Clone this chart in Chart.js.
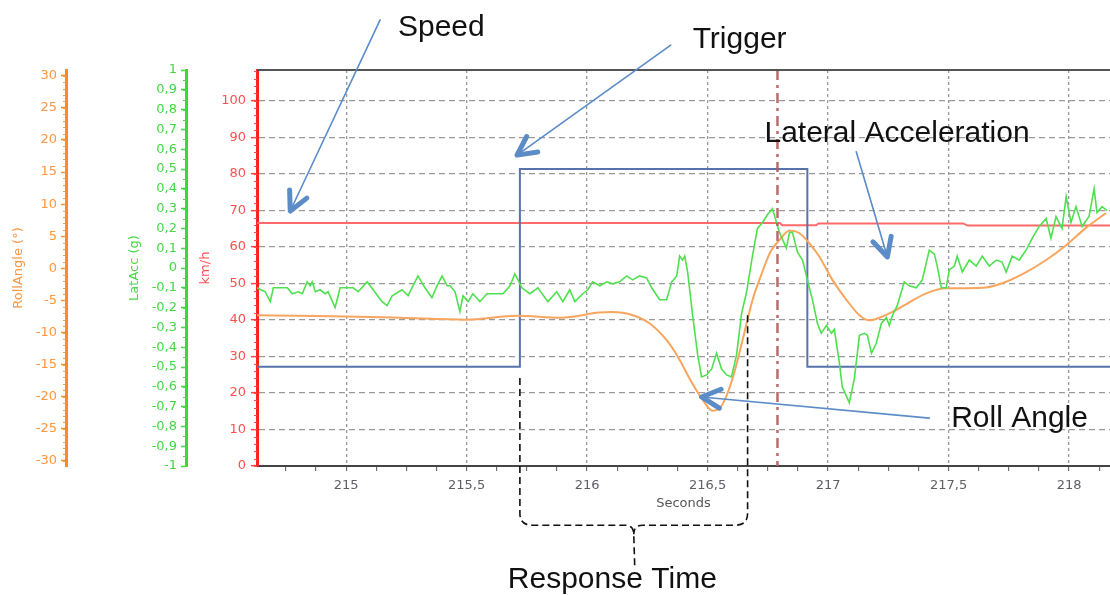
<!DOCTYPE html>
<html>
<head>
<meta charset="utf-8">
<script src="https://cdn.jsdelivr.net/npm/chart.js@4.4.1/dist/chart.umd.min.js"></script>
<style>
  html, body { margin: 0; padding: 0; background: #ffffff; }
  #wrap { width: 1110px; height: 595px; position: relative; }
</style>
</head>
<body>
<div id="wrap"><canvas id="chart" width="1110" height="595"></canvas></div>
<script>
// ---- tick labels ----
const timeTicks  = [215, 215.5, 216, 216.5, 217, 217.5, 218];
const speedTicks = [0, 10, 20, 30, 40, 50, 60, 70, 80, 90, 100];
const latTicks   = [-1, -0.9, -0.8, -0.7, -0.6, -0.5, -0.4, -0.3, -0.2, -0.1, 0,
                    0.1, 0.2, 0.3, 0.4, 0.5, 0.6, 0.7, 0.8, 0.9, 1];
const rollTicks  = [-30, -25, -20, -15, -10, -5, 0, 5, 10, 15, 20, 25, 30];

// ---- recorded channels: [seconds, value] ----
// vehicle speed, km/h
const speed = [
  [214.63, 66.5], [216.80, 66.5], [216.81, 65.9], [216.95, 65.9],
  [216.96, 66.4], [217.56, 66.4], [217.58, 65.8], [218.17, 65.8]
];
// steering trigger, drawn on the km/h scale (low / high level)
const triggerEdges = [215.721, 216.914];
const trigger = [
  [214.63, 27.2], [215.721, 27.2], [215.721, 81.3],
  [216.914, 81.3], [216.914, 27.2], [218.17, 27.2]
];
// roll angle, degrees
const rollAngle = [
  [214.63, -7.3], [214.80, -7.4], [215.00, -7.5], [215.22, -7.7], [215.50, -8.0],
  [215.71, -7.4], [215.89, -7.7], [216.05, -6.9], [216.10, -6.8], [216.19, -7.3],
  [216.26, -8.6], [216.33, -11.2], [216.38, -14.0], [216.43, -17.5], [216.48, -20.5],
  [216.52, -22.2], [216.56, -21.3], [216.60, -17.6], [216.645, -11.2], [216.686, -5.0],
  [216.72, -1.3], [216.76, 2.5], [216.80, 4.5], [216.84, 5.9], [216.88, 5.5],
  [216.935, 3.3], [216.964, 1.8], [217.018, -1.8], [217.076, -4.9], [217.13, -7.3],
  [217.171, -8.1], [217.213, -7.7], [217.267, -6.8], [217.337, -5.3], [217.407, -3.9],
  [217.49, -3.1], [217.573, -3.1], [217.656, -3.0], [217.739, -2.1], [217.822, -0.6],
  [217.905, 1.3], [217.988, 3.6], [218.07, 6.3], [218.153, 8.6]
];
// lateral acceleration, g
const latAcc = [
  [214.630, -0.10], [214.664, -0.12], [214.685, -0.17], [214.698, -0.10], [214.756, -0.10],
  [214.776, -0.13], [214.801, -0.12], [214.818, -0.13], [214.838, -0.07], [214.851, -0.09],
  [214.859, -0.07], [214.872, -0.12], [214.892, -0.11], [214.913, -0.13], [214.925, -0.12],
  [214.954, -0.20], [214.975, -0.10], [215.029, -0.10], [215.050, -0.12], [215.087, -0.07],
  [215.112, -0.11], [215.149, -0.17], [215.170, -0.19], [215.191, -0.14], [215.232, -0.11],
  [215.257, -0.14], [215.298, -0.04], [215.327, -0.10], [215.356, -0.15], [215.377, -0.09],
  [215.398, -0.04], [215.419, -0.09], [215.431, -0.09], [215.452, -0.12], [215.472, -0.22],
  [215.485, -0.14], [215.506, -0.17], [215.526, -0.13], [215.555, -0.17], [215.584, -0.13],
  [215.651, -0.13], [215.680, -0.09], [215.700, -0.03], [215.713, -0.06], [215.729, -0.10],
  [215.762, -0.13], [215.796, -0.10], [215.837, -0.17], [215.874, -0.12], [215.899, -0.17],
  [215.928, -0.11], [215.949, -0.17], [215.982, -0.13], [216.003, -0.11], [216.023, -0.07],
  [216.053, -0.09], [216.082, -0.07], [216.106, -0.08], [216.135, -0.07], [216.164, -0.04],
  [216.189, -0.06], [216.218, -0.04], [216.247, -0.05], [216.268, -0.10], [216.301, -0.16],
  [216.330, -0.16], [216.351, -0.07], [216.372, -0.04], [216.384, 0.06], [216.396, 0.04],
  [216.405, 0.06], [216.417, -0.02], [216.438, -0.24], [216.459, -0.44], [216.475, -0.55],
  [216.496, -0.54], [216.517, -0.51], [216.537, -0.43], [216.558, -0.51], [216.579, -0.54],
  [216.599, -0.55], [216.620, -0.44], [216.641, -0.23], [216.662, -0.12], [216.686, 0.06],
  [216.707, 0.20], [216.728, 0.23], [216.749, 0.27], [216.769, 0.30], [216.786, 0.23],
  [216.798, 0.18], [216.827, 0.10], [216.840, 0.18], [216.852, 0.18], [216.873, 0.08],
  [216.894, 0.04], [216.914, -0.06], [216.935, -0.16], [216.956, -0.28], [216.972, -0.33],
  [216.993, -0.29], [217.014, -0.33], [217.026, -0.31], [217.047, -0.48], [217.059, -0.60],
  [217.088, -0.68], [217.109, -0.56], [217.130, -0.34], [217.151, -0.33], [217.163, -0.34],
  [217.180, -0.43], [217.200, -0.38], [217.221, -0.28], [217.242, -0.25], [217.254, -0.29],
  [217.267, -0.24], [217.287, -0.19], [217.316, -0.07], [217.337, -0.09], [217.366, -0.10],
  [217.391, -0.06], [217.420, 0.09], [217.441, 0.07], [217.453, 0.01], [217.470, -0.10],
  [217.490, -0.10], [217.503, -0.01], [217.524, 0.01], [217.536, 0.06], [217.557, -0.02],
  [217.586, 0.04], [217.615, 0.01], [217.640, 0.06], [217.669, 0.01], [217.698, 0.04],
  [217.722, 0.03], [217.739, -0.02], [217.764, 0.06], [217.793, 0.04], [217.822, 0.09],
  [217.847, 0.15], [217.876, 0.21], [217.905, 0.25], [217.925, 0.15], [217.946, 0.26],
  [217.971, 0.20], [217.988, 0.36], [218.008, 0.23], [218.029, 0.31], [218.054, 0.21],
  [218.083, 0.26], [218.104, 0.40], [218.116, 0.28], [218.137, 0.31], [218.158, 0.29]
];

// event marker and end of the response window, seconds
const markerTime = 216.79;
const responseEnd = 216.666;

// callouts, positioned in (seconds, km/h) units
const callouts = [
  { text: 'Speed',                at: [215.215, 117.7], from: [215.141, 122.1], to: [214.768, 69.8] },
  { text: 'Trigger',              at: [216.438, 114.4], from: [216.347, 115.2], to: [215.709, 85.1] },
  { text: 'Lateral Acceleration', at: [216.736, 88.7],  from: [217.117, 86.0],  to: [217.246, 57.2] },
  { text: 'Roll Angle',           at: [217.511, 10.7],  from: [217.420, 13.1],  to: [216.475, 18.9] }
];
const responseLabel = { text: 'Response Time', at: [215.671, -33.4] };

const FONT = '"DejaVu Sans", Verdana, sans-serif';
const CALLOUT_FONT = '30px "Liberation Sans", Arial, sans-serif';
const comma = v => String(v).replace('.', ',');
const xy = arr => arr.map(([x, y]) => ({ x, y }));
const isTimeTick = v => timeTicks.some(t => Math.abs(t - v) < 1e-9);

// frame, minor ticks, marker line, callouts
const overlay = {
  id: 'overlay',
  afterDatasetsDraw(chart) {
    const { ctx, chartArea: a, scales } = chart;
    const xp = scales.x.getPixelForValue(markerTime);
    ctx.save();
    ctx.strokeStyle = 'rgba(176, 92, 92, 0.9)';
    ctx.lineWidth = 2.5;
    ctx.setLineDash([10, 5, 3, 5]);
    ctx.beginPath();
    ctx.moveTo(xp, a.top);
    ctx.lineTo(xp, a.bottom);
    ctx.stroke();
    ctx.restore();
  },
  afterDraw(chart) {
    const { ctx, chartArea: a, scales } = chart;
    const X = t => scales.x.getPixelForValue(t);
    const Y = v => scales.speed.getPixelForValue(v);

    ctx.save();
    // top frame line
    ctx.strokeStyle = '#555';
    ctx.lineWidth = 2;
    ctx.beginPath();
    ctx.moveTo(a.left, a.top);
    ctx.lineTo(a.right, a.top);
    ctx.stroke();

    // minor ticks on the three value axes
    const minor = (scale, step, lo, hi, color) => {
      ctx.strokeStyle = color;
      ctx.lineWidth = 1;
      const n = Math.round((hi - lo) / step);
      for (let i = 0; i <= n; i++) {
        const y = Math.round(scale.getPixelForValue(lo + i * step)) + 0.5;
        ctx.beginPath();
        ctx.moveTo(scale.right - 3, y);
        ctx.lineTo(scale.right, y);
        ctx.stroke();
      }
    };
    minor(scales.roll, 1, -30, 30, '#ff9a40');
    minor(scales.lat, 0.05, -1, 1, '#44dd44');
    minor(scales.speed, 2, 0, 108, '#ff4a4a');

    // arrows
    ctx.strokeStyle = '#5b8cc8';
    ctx.lineCap = 'round';
    ctx.lineJoin = 'round';
    callouts.forEach(c => {
      const x0 = X(c.from[0]), y0 = Y(c.from[1]);
      const x1 = X(c.to[0]), y1 = Y(c.to[1]);
      ctx.lineWidth = 1.6;
      ctx.beginPath();
      ctx.moveTo(x0, y0);
      ctx.lineTo(x1, y1);
      ctx.stroke();
      const ang = Math.atan2(y0 - y1, x0 - x1);
      const len = 21, spread = 0.47;
      ctx.lineWidth = 5;
      ctx.beginPath();
      ctx.moveTo(x1 + len * Math.cos(ang + spread), y1 + len * Math.sin(ang + spread));
      ctx.lineTo(x1, y1);
      ctx.lineTo(x1 + len * Math.cos(ang - spread), y1 + len * Math.sin(ang - spread));
      ctx.stroke();
    });

    // response-time bracket
    const xL = X(triggerEdges[0]), xR = X(responseEnd);
    const yBase = Y(-16.2), xMid = (xL + xR) / 2;
    ctx.strokeStyle = '#111';
    ctx.lineWidth = 1.6;
    ctx.lineCap = 'butt';
    ctx.setLineDash([7, 4]);
    ctx.beginPath();
    ctx.moveTo(xL, Y(24.1));
    ctx.lineTo(xL, yBase - 12);
    ctx.quadraticCurveTo(xL, yBase, xL + 12, yBase);
    ctx.lineTo(xMid - 9, yBase);
    ctx.quadraticCurveTo(xMid, yBase, xMid, yBase + 9);
    ctx.lineTo(xMid + 1, Y(-27.6));
    ctx.stroke();
    ctx.beginPath();
    ctx.moveTo(xR, Y(41.3));
    ctx.lineTo(xR, yBase - 12);
    ctx.quadraticCurveTo(xR, yBase, xR - 12, yBase);
    ctx.lineTo(xMid + 9, yBase);
    ctx.quadraticCurveTo(xMid, yBase, xMid, yBase + 9);
    ctx.stroke();
    ctx.setLineDash([]);

    // callout texts
    ctx.fillStyle = '#111';
    ctx.font = CALLOUT_FONT;
    ctx.textAlign = 'left';
    ctx.textBaseline = 'alphabetic';
    callouts.concat([responseLabel]).forEach(c => {
      ctx.fillText(c.text, X(c.at[0]), Y(c.at[1]));
    });
    ctx.restore();
  }
};

new Chart(document.getElementById('chart'), {
  type: 'line',
  data: {
    datasets: [
      { label: 'LatAcc (g)', data: xy(latAcc), yAxisID: 'lat',
        borderColor: '#4ee04e', borderWidth: 1.6, pointRadius: 0, tension: 0 },
      { label: 'RollAngle (°)', data: xy(rollAngle), yAxisID: 'roll',
        borderColor: '#f8a55e', borderWidth: 2, pointRadius: 0, cubicInterpolationMode: 'monotone' },
      { label: 'Trigger', data: xy(trigger), yAxisID: 'speed',
        borderColor: '#5674ab', borderWidth: 2, pointRadius: 0, tension: 0 },
      { label: 'km/h', data: xy(speed), yAxisID: 'speed',
        borderColor: '#ff6a6a', borderWidth: 2, pointRadius: 0, tension: 0 }
    ]
  },
  options: {
    responsive: false,
    animation: false,
    devicePixelRatio: 1,
    layout: { padding: { top: 70, right: 0, bottom: 0, left: 0 } },
    plugins: { legend: { display: false }, tooltip: { enabled: false } },
    scales: {
      x: {
        type: 'linear', position: 'bottom', min: 214.63, max: 218.17,
        afterBuildTicks: s => {
          const t = [];
          for (let k = Math.ceil(s.min * 8); k <= Math.floor(s.max * 8); k++) t.push({ value: k / 8 });
          s.ticks = t;
        },
        ticks: {
          autoSkip: false, maxRotation: 0, minRotation: 0, padding: 7,
          color: '#5e5e66', font: { family: FONT, size: 13 },
          callback: v => isTimeTick(v) ? comma(v) : ''
        },
        grid: {
          color: c => (c.tick && isTimeTick(c.tick.value)) ? '#9a9a9a' : 'rgba(0,0,0,0)',
          lineWidth: 1.3, tickLength: 5, tickColor: '#555', tickWidth: 1
        },
        border: { color: '#444', width: 2, dash: [3, 3] },
        title: { display: true, text: 'Seconds', color: '#555',
                 font: { family: FONT, size: 13 }, padding: { top: 0, bottom: 84 } },
        afterFit: s => { s.height = 129; }
      },
      speed: {
        type: 'linear', position: 'left', min: 0, max: 108.4, weight: 1,
        afterBuildTicks: s => { s.ticks = speedTicks.map(v => ({ value: v })); },
        ticks: { autoSkip: false, padding: 5, color: '#ff4f4f', font: { family: FONT, size: 13 } },
        grid: {
          color: c => (c.tick && c.tick.value === 0) ? 'rgba(0,0,0,0)' : '#9a9a9a',
          lineWidth: 1.3, tickLength: 6, tickColor: '#ff4040', tickWidth: 1.5
        },
        border: { color: '#ff2020', width: 3, dash: [6, 4] },
        title: { display: true, text: 'km/h', color: '#ff4f4f',
                 font: { family: FONT, size: 13 }, padding: { top: 12, bottom: 0 } },
        afterFit: s => { s.width = 71; }
      },
      lat: {
        type: 'linear', position: 'left', min: -1, max: 1, weight: 2,
        afterBuildTicks: s => { s.ticks = latTicks.map(v => ({ value: v })); },
        ticks: { autoSkip: false, padding: 4, color: '#44d844', font: { family: FONT, size: 13 },
                 callback: v => comma(v) },
        grid: { drawOnChartArea: false, tickLength: 5, tickColor: '#33dd33', tickWidth: 1.5 },
        border: { color: '#33dd33', width: 3 },
        title: { display: true, text: 'LatAcc (g)', color: '#44d844',
                 font: { family: FONT, size: 13 }, padding: { top: 61, bottom: 0 } },
        afterFit: s => { s.width = 120; }
      },
      roll: {
        type: 'linear', position: 'left', min: -30.8, max: 30.9, weight: 3,
        afterBuildTicks: s => { s.ticks = rollTicks.map(v => ({ value: v })); },
        ticks: { autoSkip: false, padding: 4, color: '#ff9640', font: { family: FONT, size: 13 } },
        grid: { drawOnChartArea: false, tickLength: 5, tickColor: '#ff8a1e', tickWidth: 1.5 },
        border: { color: '#ff8a1e', width: 3 },
        title: { display: true, text: 'RollAngle (°)', color: '#ff9640',
                 font: { family: FONT, size: 13 }, padding: { top: 11, bottom: 0 } },
        afterFit: s => { s.width = 66; }
      }
    }
  },
  plugins: [overlay]
});
</script>
</body>
</html>
